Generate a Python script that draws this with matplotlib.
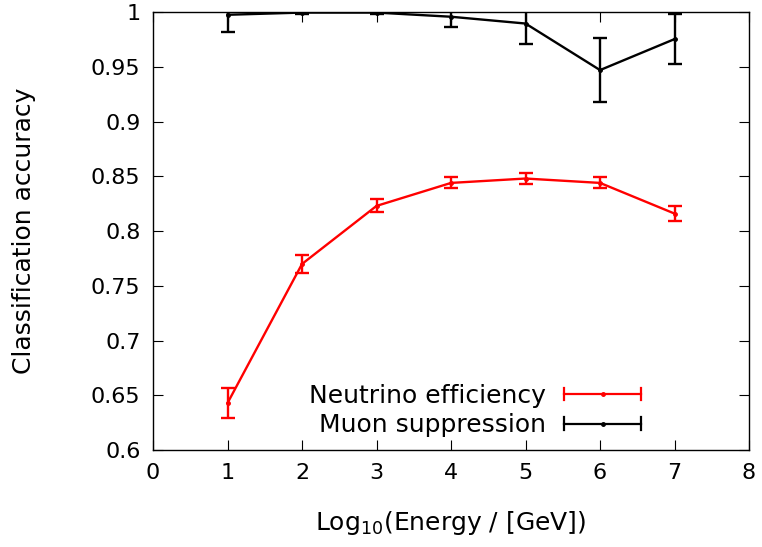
import matplotlib

matplotlib.use("Agg")
import matplotlib.pyplot as plt  # noqa: E402
from matplotlib.legend_handler import HandlerBase  # noqa: E402
from matplotlib.lines import Line2D  # noqa: E402

# log10(E / GeV) bins
log_energy = [1, 2, 3, 4, 5, 6, 7]

nu_eff = [0.643, 0.770, 0.823, 0.844, 0.848, 0.844, 0.816]
nu_err = [0.014, 0.008, 0.006, 0.005, 0.005, 0.005, 0.007]

mu_supp = [0.9975, 0.9995, 0.9995, 0.9957, 0.9895, 0.947, 0.9753]
mu_err = [0.016, 0.001, 0.001, 0.009, 0.019, 0.029, 0.023]

x_ticks = [0, 1, 2, 3, 4, 5, 6, 7, 8]
y_ticks = [0.6, 0.65, 0.7, 0.75, 0.8, 0.85, 0.9, 0.95, 1.0]

plt.rcParams.update({
    "font.family": "DejaVu Sans", "font.size": 16,
    "xtick.direction": "in", "ytick.direction": "in",
    "xtick.top": True, "ytick.right": True,
    "xtick.major.size": 7, "ytick.major.size": 7,
    "axes.linewidth": 1.0,
})


class HandlerGnuErr(HandlerBase):
    """gnuplot-style key sample: horizontal bar with end caps and a dot in the middle."""

    def create_artists(self, legend, orig, xd, yd, width, height, fontsize, trans):
        c = orig.get_color()
        y = height / 2 - yd
        x0, x1 = -xd, -xd + width
        h = height * 0.35
        arts = [
            Line2D([x0, x1], [y, y], color=c, lw=1.6),
            Line2D([x0, x0], [y - h, y + h], color=c, lw=1.6),
            Line2D([x1, x1], [y - h, y + h], color=c, lw=1.6),
            Line2D([(x0 + x1) / 2], [y], color=c, marker="o", ms=2.5, lw=0),
        ]
        for a in arts:
            a.set_transform(trans)
        return arts


fig = plt.figure(figsize=(7.62, 5.47), dpi=100)
ax = fig.add_axes([0.2008, 0.177, 0.7822, 0.801])

ax.errorbar(log_energy, nu_eff, yerr=nu_err, color="red", lw=1.7, marker="o", ms=2.5,
            capsize=5, capthick=1.7, elinewidth=1.7)
ax.errorbar(log_energy, mu_supp, yerr=mu_err, color="black", lw=1.7, marker="o", ms=2.5,
            capsize=5, capthick=1.7, elinewidth=1.7)

h_nu = Line2D([], [], color="red")
h_mu = Line2D([], [], color="black")
ax.legend([h_nu, h_mu], ["Neutrino efficiency", "Muon suppression"],
          handler_map={Line2D: HandlerGnuErr()}, loc="lower right",
          bbox_to_anchor=(0.857, -0.022), frameon=False, markerfirst=False,
          handlelength=3.1, handletextpad=0.7, labelspacing=0.22, fontsize=18)

ax.set_xlim(0, 8)
ax.set_ylim(0.6, 1.0)
ax.set_xticks(x_ticks)
ax.set_yticks(y_ticks)
ax.set_yticklabels([f"{v:g}" for v in y_ticks])
ax.tick_params(pad=9)
ax.set_xlabel("Log$_{10}$(Energy / [GeV])", fontsize=18)
ax.set_ylabel("Classification accuracy", fontsize=18)
ax.xaxis.set_label_coords(0.5, -0.135)
ax.yaxis.set_label_coords(-0.197, 0.5)

fig.savefig("out.png", dpi=100)
